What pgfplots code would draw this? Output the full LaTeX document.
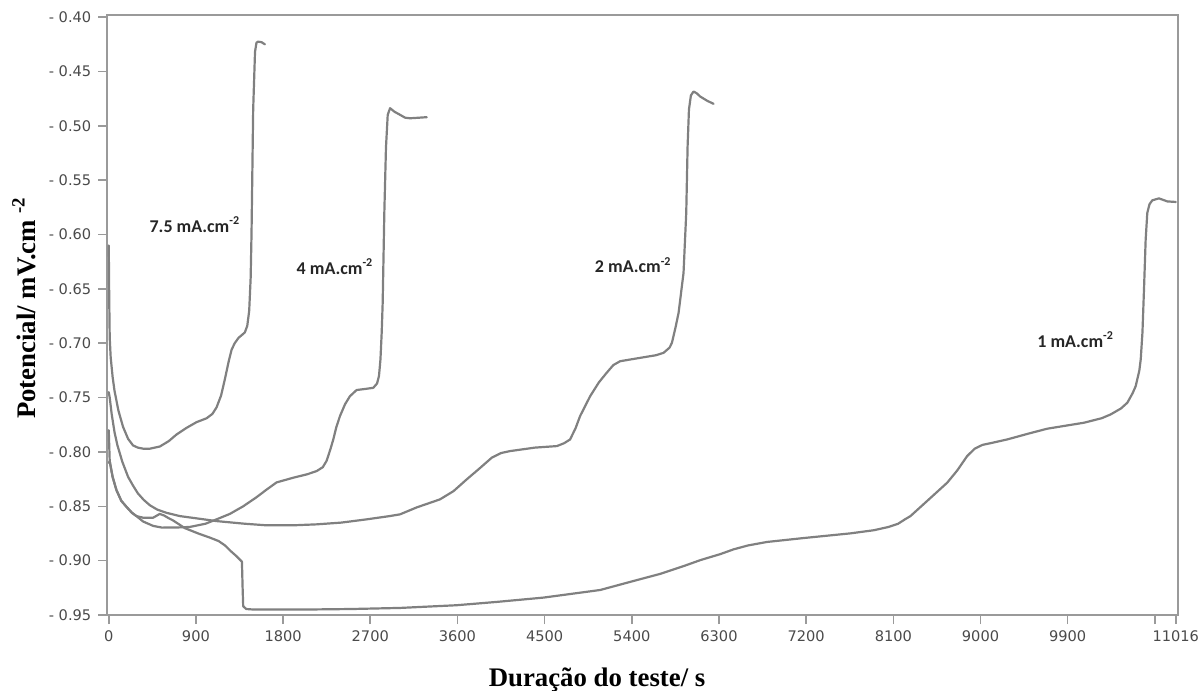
\documentclass[border=0pt]{standalone}
\usepackage{fontspec}
\usepackage{pgfplots}
\pgfplotsset{compat=1.18}
\setmainfont{Liberation Serif}
\newfontfamily\tickfont{DejaVu Sans}
\newfontfamily\annfont{Carlito}
\definecolor{curve}{HTML}{808080}
\definecolor{axisgrey}{HTML}{9A9A9A}
\definecolor{ticktext}{HTML}{4A4A4A}
\definecolor{anntext}{HTML}{262626}
\pgfplotsset{curvestyle/.style={draw=curve, line width=1.1pt, line join=round, line cap=round, mark=none}}
\begin{document}
\begin{tikzpicture}
\begin{axis}[
  scale only axis, width=535.4pt, height=300pt,
  xmin=-15, xmax=11040, ymin=-0.95, ymax=-0.398,
  scaled x ticks=false, scaled y ticks=false,
  axis line style={draw=axisgrey, line width=0.8pt},
  tick style={draw=axisgrey, line width=0.8pt},
  tick align=outside, major tick length=4.5pt,
  xtick pos=bottom, ytick pos=left,
  xtick={0,900,1800,2700,3600,4500,5400,6300,7200,8100,9000,9900,10800,11016},
  xticklabels={0,900,1800,2700,3600,4500,5400,6300,7200,8100,9000,9900,,11016},
  ytick={-0.95,-0.90,-0.85,-0.80,-0.75,-0.70,-0.65,-0.60,-0.55,-0.50,-0.45,-0.40},
  yticklabels={- 0.95,- 0.90,- 0.85,- 0.80,- 0.75,- 0.70,- 0.65,- 0.60,- 0.55,- 0.50,- 0.45,- 0.40},
  ticklabel style={font=\tickfont\fontsize{7.3}{8}\selectfont, text=ticktext},
  /pgf/number format/assume math mode=true,
  xlabel={Duração do teste/ s},
  ylabel={Potencial/ mV.cm \textsuperscript{-2}},
  label style={font=\bfseries\fontsize{13.4}{16}\selectfont, text=black},
  xlabel style={at={(axis description cs:0.4574,0)}, anchor=center, yshift=-32.5pt},
  ylabel style={at={(axis description cs:-0.0779,0.512)}, anchor=center},
  clip=false,
]
% 7.5 mA.cm-2
\addplot[curvestyle] coordinates {
(0,-0.61) (5,-0.66) (10,-0.695) (20,-0.713) (40,-0.731) (60,-0.744) (100,-0.762) (148,-0.777) (200,-0.788) (251,-0.794) (300,-0.796) (355,-0.797) (424,-0.797) (527,-0.795) (620,-0.790) (699,-0.784) (800,-0.778) (906,-0.7726) (1010,-0.769) (1070,-0.765) (1113,-0.759) (1160,-0.748) (1199,-0.733) (1240,-0.716) (1268,-0.706) (1300,-0.700) (1340,-0.695) (1380,-0.692) (1405,-0.690) (1430,-0.684) (1450,-0.670) (1465,-0.640) (1474,-0.599) (1491,-0.485) (1510,-0.432) (1525,-0.4235) (1540,-0.4225) (1578,-0.423) (1612,-0.425)
};
% 4 mA.cm-2
\addplot[curvestyle] coordinates {
(0,-0.78) (10,-0.8086) (40,-0.823) (79,-0.835) (130,-0.845) (183,-0.8505) (240,-0.856) (286,-0.859) (355,-0.864) (458,-0.868) (550,-0.8696) (700,-0.8695) (837,-0.869) (1000,-0.866) (1113,-0.862) (1250,-0.857) (1388,-0.850) (1520,-0.842) (1630,-0.8346) (1733,-0.828) (1905,-0.8237) (2050,-0.8205) (2146,-0.8176) (2210,-0.814) (2250,-0.808) (2290,-0.797) (2318,-0.7885) (2350,-0.777) (2387,-0.767) (2440,-0.756) (2490,-0.7487) (2559,-0.743) (2650,-0.742) (2731,-0.741) (2770,-0.737) (2790,-0.730) (2805,-0.715) (2818,-0.690) (2828,-0.663) (2845,-0.58) (2862,-0.52) (2880,-0.490) (2904,-0.4837) (2950,-0.487) (3007,-0.4898) (3060,-0.4925) (3110,-0.493) (3200,-0.4925) (3283,-0.492)
};
% 2 mA.cm-2
\addplot[curvestyle] coordinates {
(0,-0.745) (10,-0.750) (30,-0.765) (60,-0.782) (90,-0.794) (140,-0.809) (200,-0.823) (251,-0.831) (300,-0.838) (360,-0.844) (424,-0.8490) (500,-0.853) (596,-0.856) (734,-0.859) (900,-0.861) (1113,-0.8636) (1400,-0.866) (1630,-0.8675) (1900,-0.8675) (2146,-0.8666) (2400,-0.865) (2663,-0.862) (2900,-0.859) (3007,-0.8574) (3180,-0.851) (3420,-0.8436) (3560,-0.836) (3696,-0.8252) (3830,-0.815) (3954,-0.8053) (4050,-0.801) (4143,-0.7992) (4400,-0.796) (4626,-0.7946) (4700,-0.792) (4763,-0.7885) (4820,-0.778) (4866,-0.767) (4970,-0.7487) (5060,-0.736) (5142,-0.727) (5210,-0.720) (5280,-0.7165) (5487,-0.7134) (5650,-0.711) (5728,-0.7088) (5790,-0.704) (5814,-0.6996) (5850,-0.686) (5883,-0.672) (5934,-0.6353) (5962,-0.580) (5976,-0.519) (5990,-0.485) (6010,-0.472) (6037,-0.4684) (6070,-0.470) (6106,-0.473) (6180,-0.477) (6244,-0.4797)
};
% 1 mA.cm-2
\addplot[curvestyle] coordinates {
(0,-0.81) (10,-0.8086) (40,-0.823) (79,-0.835) (130,-0.845) (183,-0.8505) (240,-0.856) (286,-0.859) (355,-0.8605) (458,-0.8605) (527,-0.857) (572,-0.8585) (620,-0.861) (664,-0.863) (784,-0.870) (924,-0.875) (1050,-0.879) (1135,-0.882) (1200,-0.886) (1257,-0.891) (1320,-0.896) (1375,-0.901) (1382,-0.925) (1388,-0.942) (1420,-0.9445) (1500,-0.945) (2000,-0.945) (2500,-0.9445) (3007,-0.9435) (3593,-0.941) (4000,-0.938) (4487,-0.934) (5073,-0.927) (5418,-0.9187) (5700,-0.912) (5935,-0.905) (6108,-0.8995) (6313,-0.894) (6451,-0.8896) (6600,-0.886) (6796,-0.8828) (7174,-0.8792) (7657,-0.8749) (7900,-0.872) (8050,-0.869) (8150,-0.866) (8220,-0.862) (8277,-0.859) (8450,-0.845) (8656,-0.8283) (8760,-0.817) (8862,-0.8038) (8940,-0.7970) (9020,-0.7935) (9100,-0.792) (9275,-0.7885) (9500,-0.783) (9689,-0.7786) (10068,-0.7731) (10250,-0.769) (10343,-0.7655) (10450,-0.760) (10516,-0.7547) (10570,-0.746) (10602,-0.7395) (10640,-0.725) (10654,-0.715) (10672,-0.69) (10690,-0.645) (10705,-0.6047) (10722,-0.580) (10745,-0.572) (10774,-0.5685) (10842,-0.5667) (10929,-0.5695) (11016,-0.570)
};
\begin{scope}[every node/.style={font=\annfont\bfseries\fontsize{9}{10}\selectfont, text=anntext}]
\node at (axis cs:889,-0.591) {7.5 mA.cm\textsuperscript{-2}};
\node at (axis cs:2336,-0.6295) {4 mA.cm\textsuperscript{-2}};
\node at (axis cs:5415,-0.628) {2 mA.cm\textsuperscript{-2}};
\node at (axis cs:9982,-0.6966) {1 mA.cm\textsuperscript{-2}};
\end{scope}
\end{axis}
\pgfresetboundingbox
\path (-53.65pt,-38pt) rectangle (546.35pt,307.5pt);
\end{tikzpicture}
\end{document}
